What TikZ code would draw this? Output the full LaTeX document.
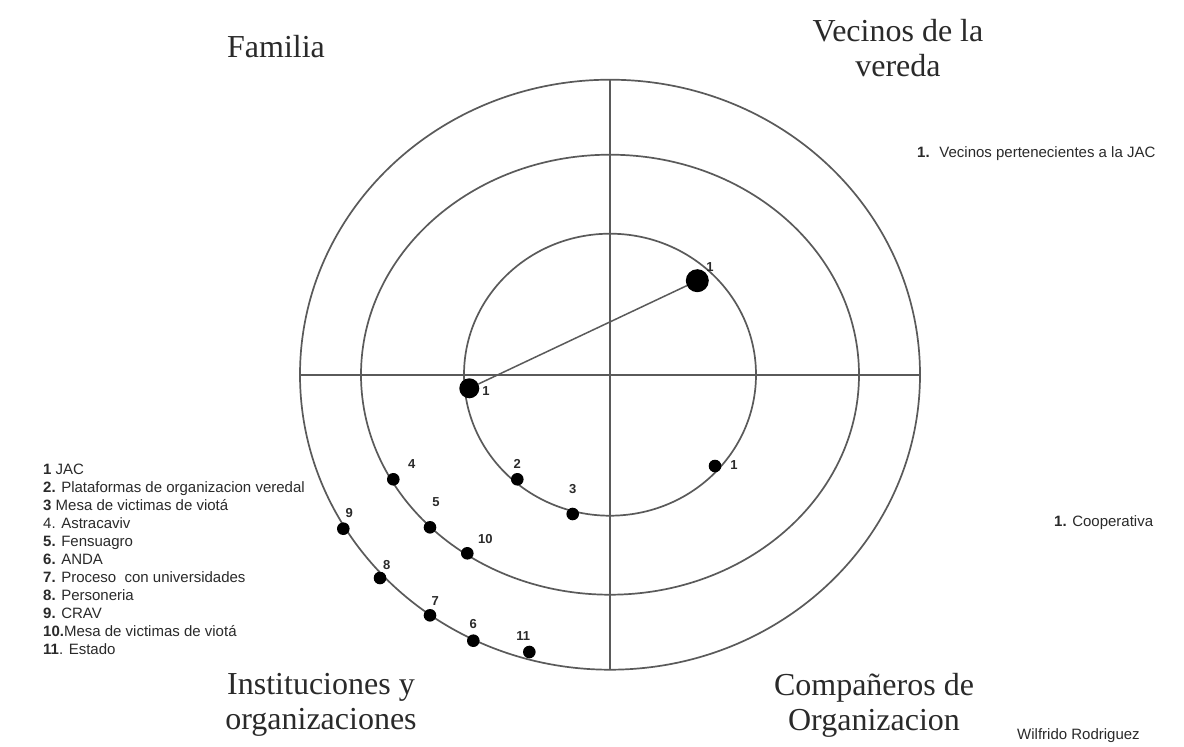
\documentclass[tikz,border=0pt]{standalone}
\usepackage{fontspec}
\setmainfont{Liberation Serif}
\newfontfamily\lsans{Liberation Sans}
\definecolor{ringgray}{HTML}{5A5A5A}
\definecolor{txt}{HTML}{2A2A2A}
\tikzset{
  ring/.style={draw=ringgray, line width=1.7pt},
  axis/.style={draw=ringgray, line width=1.7pt},
  link/.style={draw=ringgray, line width=1.5pt},
  dot/.style={circle, fill=black, inner sep=0pt, minimum size=12.6pt},
  bigdot/.style={circle, fill=black, inner sep=0pt, minimum size=20pt},
  lbl/.style={font=\lsans\bfseries\fontsize{13}{13}\selectfont, text=txt, inner sep=0pt},
  heading/.style={font=\fontsize{32}{35}\selectfont, align=center, text=txt, inner sep=0pt},
  item/.style={font=\lsans\fontsize{15}{18}\selectfont, anchor=mid west, inner sep=0pt, text=txt},
}
\begin{document}
\begin{tikzpicture}[x=1pt,y=-1pt]
\useasboundingbox[fill=white] (0,0) rectangle (1184,747);

% rings
\draw[ring] (610,374.7) ellipse [x radius=310pt, y radius=295pt];
\draw[ring] (610,374.7) ellipse [x radius=249pt, y radius=220pt];
\draw[ring] (610,374.7) ellipse [x radius=146pt, y radius=141pt];

% axes
\coordinate (axL) at (300.7,374.7);
\coordinate (axR) at (920,374.7);
\coordinate (axT) at (610,79.7);
\coordinate (axB) at (610,669.7);
\draw[axis] (axL) -- (axR);
\draw[axis] (axT) -- (axB);

% headings
\node[heading] (hFam) at (276,47) {Familia};
\node[heading] (hVec) at (898,48) {Vecinos de la\\vereda};
\node[heading] (hIns) at (321,705) {Instituciones y\\organizaciones};
\node[heading] (hCom) at (874,705) {Compañeros de\\Organizacion};

% big dots and link
\node[bigdot, minimum width=23pt] (v1) at (697.3,280.7) {};
\node[bigdot] (f1) at (469.3,388.3) {};
\draw[link] (f1) -- (v1);
\node[lbl] (v1l) at (710,266.7) {1};
\node[lbl] (f1l) at (486,390.7) {1};

% companeros
\node[dot] (c1) at (715,466) {};
\node[lbl] (c1l) at (734,465) {1};

% instituciones
\node[dot] (d2) at (517.3,479.3) {};
\node[lbl] (d2l) at (517.3,464) {2};
\node[dot] (d3) at (572.7,514) {};
\node[lbl] (d3l) at (572.7,488.7) {3};
\node[dot] (d4) at (393.3,479.3) {};
\node[lbl] (d4l) at (411.7,464) {4};
\node[dot] (d5) at (430,527.3) {};
\node[lbl] (d5l) at (436,502) {5};
\node[dot] (d10) at (467.3,553.3) {};
\node[lbl] (d10l) at (485.3,538.7) {10};
\node[dot] (d9) at (343.3,528.7) {};
\node[lbl] (d9l) at (349.3,512.7) {9};
\node[dot] (d8) at (380,578) {};
\node[lbl] (d8l) at (386.7,564.7) {8};
\node[dot] (d7) at (430,615.3) {};
\node[lbl] (d7l) at (435.3,600.7) {7};
\node[dot] (d6) at (473.3,640.7) {};
\node[lbl] (d6l) at (473.3,624) {6};
\node[dot] (d11) at (529.3,652) {};
\node[lbl] (d11l) at (523.3,636) {11};

% legend list
\node[item] (i1) at (43,471.7) {\textbf{1} JAC};
\node[item] (i2) at (43,489.7) {\textbf{2.} Plataformas de organizacion veredal};
\node[item] (i3) at (43,507.7) {\textbf{3} Mesa de victimas de viotá};
\node[item] (i4) at (43,525.7) {4. Astracaviv};
\node[item] (i5) at (43,543.7) {\textbf{5.} Fensuagro};
\node[item] (i6) at (43,561.7) {\textbf{6.} ANDA};
\node[item] (i7) at (43,579.7) {\textbf{7.} Proceso~ con universidades};
\node[item] (i8) at (43,597.7) {\textbf{8.} Personeria};
\node[item] (i9) at (43,615.7) {\textbf{9.} CRAV};
\node[item] (i10) at (43,633.7) {\textbf{10.}Mesa de victimas de viotá};
\node[item] (i11) at (43,651.7) {\textbf{11}. Estado};

% right texts
\node[item] (rv) at (917,155) {\textbf{1.}~ Vecinos pertenecientes a la JAC};
\node[item] (rc) at (1054,524) {\textbf{1.} Cooperativa};
\node[item] (au) at (1017,736.7) {Wilfrido Rodriguez};
\end{tikzpicture}
\end{document}
